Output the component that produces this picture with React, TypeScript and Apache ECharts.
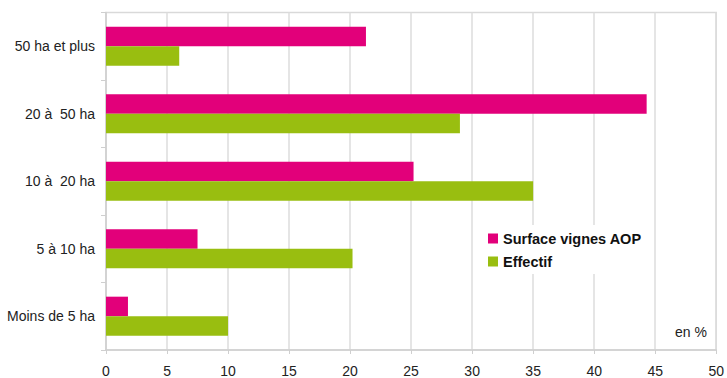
import React, { useEffect, useRef } from "react";
import * as echarts from "echarts";

const categories = ["Moins de 5 ha", "5 à 10 ha", "10 à  20 ha", "20 à  50 ha", "50 ha et plus"];
const surfaceValues = [1.8, 7.5, 25.2, 44.3, 21.3];
const effectifValues = [10.0, 20.2, 35.0, 29.0, 6.0];
const seriesNames = ["Surface vignes AOP", "Effectif"];
const unitLabel = "en %";

export default function App() {
  const ref = useRef<HTMLDivElement>(null);
  useEffect(() => {
    if (!ref.current) return;
    const chart = echarts.init(ref.current, null, { renderer: "svg" });
    const font = "Liberation Sans, Arial, sans-serif";
    chart.setOption({
      animation: false,
      backgroundColor: "#ffffff",
      grid: {
        left: 106,
        right: 9,
        top: 12.5,
        bottom: 26,
        show: true,
        borderColor: "#d9d9d9",
        borderWidth: 1.5,
        containLabel: false,
      },
      legend: {
        orient: "vertical",
        left: 480,
        top: 225,
        data: seriesNames,
        icon: "rect",
        itemWidth: 10,
        itemHeight: 10,
        itemGap: 8,
        backgroundColor: "#ffffff",
        padding: [6, 8, 5, 8],
        textStyle: { fontFamily: font, fontSize: 14.5, fontWeight: "bold", color: "#111" },
      },
      xAxis: {
        type: "value",
        min: 0,
        max: 50,
        interval: 5,
        axisLine: { show: true, lineStyle: { color: "#cfcfcf", width: 1.5 } },
        axisTick: { show: true, length: 4, lineStyle: { color: "#cfcfcf" } },
        splitLine: { show: true, lineStyle: { color: "#dcdcdc", width: 1.5 } },
        axisLabel: { margin: 14, fontFamily: font, fontSize: 14, color: "#222" },
      },
      yAxis: {
        type: "category",
        data: categories,
        axisLine: { show: true, lineStyle: { color: "#cfcfcf", width: 1.5 } },
        axisTick: { show: true, length: 5, lineStyle: { color: "#cfcfcf" } },
        axisLabel: { margin: 11, fontFamily: font, fontSize: 14, color: "#222" },
      },
      series: [
        {
          name: seriesNames[0],
          type: "bar",
          data: surfaceValues,
          itemStyle: { color: "#e2007a" },
          barGap: "0%",
          barCategoryGap: "42%",
        },
        {
          name: seriesNames[1],
          type: "bar",
          data: effectifValues,
          itemStyle: { color: "#99be10" },
          barGap: "0%",
          barCategoryGap: "42%",
        },
      ],
      graphic: [
        {
          type: "text",
          left: 675,
          top: 325,
          style: { text: unitLabel, fontFamily: font, fontSize: 14, fill: "#222" },
        },
      ],
    });
    return () => chart.dispose();
  }, []);
  return (
    <div
      ref={ref}
      style={{ position: "fixed", left: 0, top: 0, width: 727, height: 378 }}
    />
  );
}
